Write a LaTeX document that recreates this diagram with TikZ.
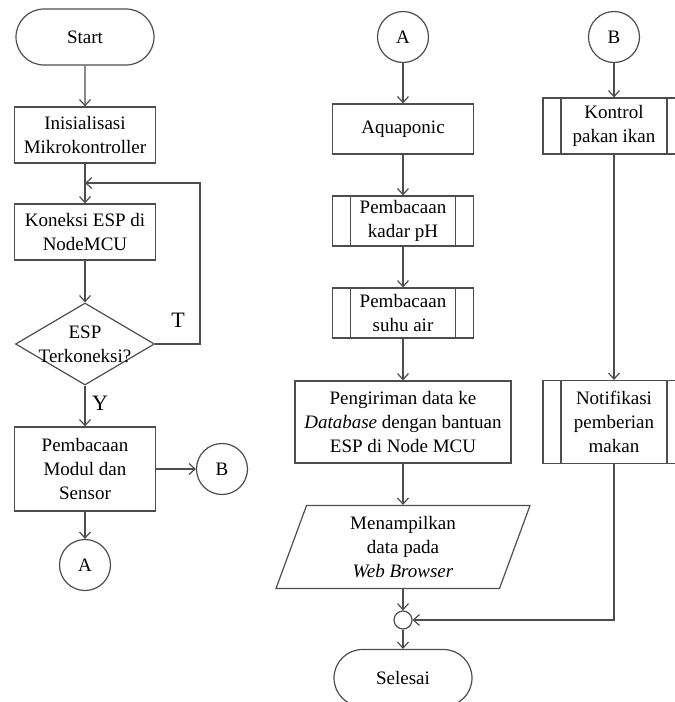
\documentclass[tikz,border=0pt]{standalone}
\usepackage{fontspec}
\setmainfont{Liberation Serif}
\usetikzlibrary{shapes.geometric,shapes.misc,arrows.meta}
\definecolor{garis}{HTML}{4D4D4D}
\begin{document}
\begin{tikzpicture}[x=1pt,y=-1pt]
			\tikzstyle{panah}=[-{Straight Barb[length=6pt,width=11pt]},line width=1.2pt,draw=garis]
			\tikzstyle{teks}=[font=\fontsize{19}{24}\selectfont,align=center]
			\tikzstyle{dasar}=[teks,draw=garis,line width=1.2pt,inner sep=2pt]
			\tikzstyle{terminal}=[dasar,rounded rectangle,minimum width=142pt,minimum height=56pt]
			\tikzstyle{proses}=[dasar,rectangle,minimum width=141pt,minimum height=50pt]
			\tikzstyle{subproses}=[proses,path picture={
				\draw[garis,line width=1.2pt] ([xshift=18pt]path picture bounding box.north west) -- ([xshift=18pt]path picture bounding box.south west);
				\draw[garis,line width=1.2pt] ([xshift=-18pt]path picture bounding box.north east) -- ([xshift=-18pt]path picture bounding box.south east);}]
			\tikzstyle{keputusan}=[dasar,diamond,minimum width=139pt,minimum height=82pt,inner sep=0pt]
			\tikzstyle{masukan}=[dasar,trapezium,trapezium left angle=65,trapezium right angle=115,trapezium stretches body,minimum width=254pt,minimum height=83pt]
			\tikzstyle{konektor}=[dasar,circle,minimum size=51pt,inner sep=0pt]
			\tikzstyle{titik}=[draw=garis,line width=1.2pt,circle,minimum size=18pt,inner sep=0pt]
			\tikzstyle{etiket}=[font=\fontsize{22}{24}\selectfont]
			\def\KolomKiri{85}
			\def\KolomTengah{403}
			\def\KolomKanan{614}
			\useasboundingbox (0,0) rectangle (675,702);
			\node[terminal] (mulai) at ({\KolomKiri},37) {Start};
			\node[proses,minimum height=56pt] (inisialisasi) at ({\KolomKiri},135) {Inisialisasi\\Mikrokontroller};
			\node[proses,minimum height=56pt] (koneksi) at ({\KolomKiri},232) {Koneksi ESP di\\NodeMCU};
			\node[keputusan,label={[teks]center:{ESP\\Terkoneksi?}}] (cek) at ({\KolomKiri},344) {};
			\node[proses,minimum height=84pt] (baca) at ({\KolomKiri},469) {Pembacaan\\Modul dan\\Sensor};
			\node[konektor] (keB) at (222,469) {B};
			\node[konektor] (keA) at ({\KolomKiri},565) {A};
			\coordinate (ulang) at ({\KolomKiri},183);
			\coordinate (balik) at (200,183);
			\node[etiket] (tidak) at (178,320) {T};
			\node[etiket] (ya) at (100,403) {Y};
			\node[konektor] (dariA) at ({\KolomTengah},37) {A};
			\node[proses] (aquaponic) at ({\KolomTengah},129) {Aquaponic};
			\node[subproses] (ph) at ({\KolomTengah},221) {Pembacaan\\kadar pH};
			\node[subproses] (suhu) at ({\KolomTengah},313) {Pembacaan\\suhu air};
			\node[proses,minimum width=216pt,minimum height=82pt] (kirim) at ({\KolomTengah},422) {Pengiriman data ke\\\textit{Database} dengan bantuan\\ESP di Node MCU};
			\node[masukan] (tampil) at ({\KolomTengah},547) {Menampilkan\\data pada\\\textit{Web Browser}};
			\node[titik] (gabung) at ({\KolomTengah},620) {};
			\node[terminal,minimum height=57pt] (selesai) at ({\KolomTengah},678) {Selesai};
			\node[konektor] (dariB) at ({\KolomKanan},37) {B};
			\node[subproses,minimum width=142pt,minimum height=56pt] (pakan) at ({\KolomKanan},126) {Kontrol\\pakan ikan};
			\node[subproses,minimum width=142pt,minimum height=83pt] (notifikasi) at ({\KolomKanan},422) {Notifikasi\\pemberian\\makan};
			\draw[panah] (mulai)--(inisialisasi);
			\draw[panah] (inisialisasi)--(koneksi);
			\draw[panah] (koneksi)--(cek);
			\draw[panah] (cek.east) -| (balik) -- (ulang);
			\draw[panah] (cek)--(baca);
			\draw[panah] (baca)--(keB);
			\draw[panah] (baca)--(keA);
			\draw[panah] (dariA)--(aquaponic);
			\draw[panah] (aquaponic)--(ph);
			\draw[panah] (ph)--(suhu);
			\draw[panah] (suhu)--(kirim);
			\draw[panah] (kirim)--(tampil);
			\draw[panah] (tampil.south -| gabung) -- (gabung);
			\draw[panah] (gabung)--(selesai);
			\draw[panah] (dariB)--(pakan);
			\draw[panah] (pakan)--(notifikasi);
			\draw[panah] (notifikasi.south) |- (gabung.east);
		\end{tikzpicture}
\end{document}
